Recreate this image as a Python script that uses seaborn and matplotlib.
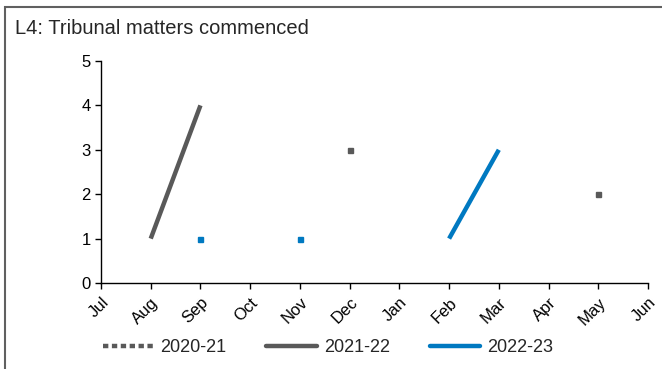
import numpy as np
import pandas as pd
import matplotlib
matplotlib.use("Agg")
import matplotlib.pyplot as plt
import matplotlib.patches as patches
from matplotlib.lines import Line2D
import seaborn as sns

months = ["Jul", "Aug", "Sep", "Oct", "Nov", "Dec", "Jan", "Feb", "Mar", "Apr", "May", "Jun"]
s2020_21 = [np.nan, np.nan, np.nan, np.nan, np.nan, 3, np.nan, np.nan, np.nan, np.nan, 2, np.nan]
s2021_22 = [np.nan, 1, 4, np.nan, np.nan, np.nan, np.nan, np.nan, np.nan, np.nan, np.nan, np.nan]
s2022_23 = [np.nan, np.nan, 1, np.nan, 1, np.nan, np.nan, 1, 3, np.nan, np.nan, np.nan]
series_names = ["2020-21", "2021-22", "2022-23"]
yticks = [0, 1, 2, 3, 4, 5]

GRAY = "#595959"
BLUE = "#0079C1"

sns.set_style("white")
plt.rcParams["font.family"] = ["Liberation Sans", "DejaVu Sans"]

fig = plt.figure(figsize=(6.62, 3.69), dpi=100)
ax = fig.add_axes([101 / 662, 1 - 283 / 369, 547 / 662, (283 - 61) / 369])

x = np.arange(len(months))
styles = {
    "2020-21": dict(color=GRAY, ls=(0, (1.2, 0.8)), lw=3.2),
    "2021-22": dict(color=GRAY, ls="-", lw=3.2),
    "2022-23": dict(color=BLUE, ls="-", lw=3.2),
}
data = {"2020-21": s2020_21, "2021-22": s2021_22, "2022-23": s2022_23}

for name in series_names:
    vals = np.array(data[name], dtype=float)
    st = styles[name]
    df = pd.DataFrame({"x": x, "y": vals})
    ax.plot(df["x"], df["y"], color=st["color"], lw=st["lw"], ls="-", solid_capstyle="butt")
    for i in range(len(vals)):
        if np.isnan(vals[i]):
            continue
        left = np.isnan(vals[i - 1]) if i > 0 else True
        right = np.isnan(vals[i + 1]) if i < len(vals) - 1 else True
        if left and right:
            ax.plot([x[i]], [vals[i]], marker="s", ms=3.6, color=st["color"], ls="none")

ax.set_xlim(0, 11)
ax.set_ylim(0, 5)
ax.set_yticks(yticks)
ax.set_xticks(x)
ax.set_xticklabels(months, rotation=45, ha="right", va="top", rotation_mode="anchor")
ax.tick_params(axis="both", direction="out", length=4.5, width=1, colors="black",
               labelsize=12, bottom=True, left=True)
ax.tick_params(axis="y", pad=3)
ax.tick_params(axis="x", pad=4)
for side in ["top", "right"]:
    ax.spines[side].set_visible(False)
for side in ["left", "bottom"]:
    ax.spines[side].set_color("black")
    ax.spines[side].set_linewidth(1)
ax.set_facecolor("white")

fig.text(15 / 662, 1 - 29 / 369, "L4: Tribunal matters commenced", fontsize=14.5, va="center", ha="left")

handles = [Line2D([], [], **styles[n]) for n in series_names]
fig.legend(handles, series_names, loc="center", bbox_to_anchor=(328 / 662, 1 - 348 / 369),
           ncol=3, frameon=False, fontsize=13, handlelength=2.8, columnspacing=2.2,
           handletextpad=0.4, borderpad=0)

rect = patches.Rectangle((5 / 662, -0.2), 1.0, 1.2 - 7 / 369, transform=fig.transFigure,
                         fill=False, edgecolor="#606060", lw=1.5)
fig.patches.append(rect)

fig.savefig("out.png", dpi=100)
